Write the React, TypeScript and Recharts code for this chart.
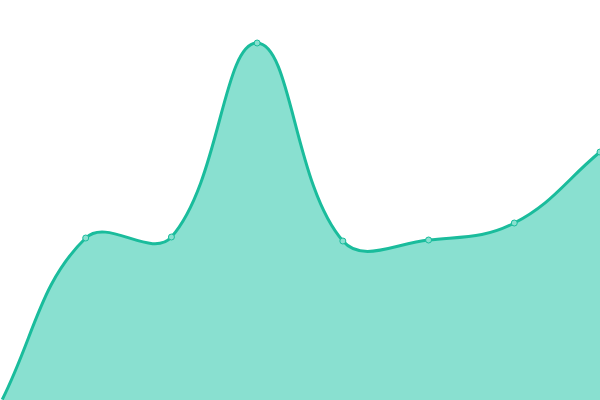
import { AreaChart, Area, XAxis, YAxis } from "recharts";

const labels = ["A", "B", "C", "D", "E", "F", "G", "H"];
const values = [-4, 162, 163, 357, 159, 160, 177, 248];

const data = labels.map((label, i) => ({ label, value: values[i] }));

const W = 600;
const H = 400;

// Spline like Chart.js' line tension (distance-weighted control points, capped to the plot)
function tensionCurve(t: number) {
  return (context: any) => {
    let xs: number[] = [];
    let ys: number[] = [];
    let line = NaN;
    const cap = (v: number, max: number) => Math.max(0, Math.min(max, v));
    return {
      areaStart() {
        line = 0;
      },
      areaEnd() {
        line = NaN;
      },
      lineStart() {
        xs = [];
        ys = [];
      },
      point(x: number, y: number) {
        xs.push(+x);
        ys.push(+y);
      },
      lineEnd() {
        const n = xs.length;
        const prevCp: number[][] = [];
        const nextCp: number[][] = [];
        for (let i = 0; i < n; i++) {
          const a = i > 0 ? i - 1 : i;
          const c = i < n - 1 ? i + 1 : i;
          const d01 = Math.hypot(xs[i] - xs[a], ys[i] - ys[a]);
          const d12 = Math.hypot(xs[c] - xs[i], ys[c] - ys[i]);
          let s01 = d01 / (d01 + d12);
          let s12 = d12 / (d01 + d12);
          if (isNaN(s01)) s01 = 0;
          if (isNaN(s12)) s12 = 0;
          const fa = t * s01;
          const fb = t * s12;
          const dx = xs[c] - xs[a];
          const dy = ys[c] - ys[a];
          prevCp.push([cap(xs[i] - fa * dx, W), cap(ys[i] - fa * dy, H)]);
          nextCp.push([cap(xs[i] + fb * dx, W), cap(ys[i] + fb * dy, H)]);
        }
        if (n > 0) {
          if (line) context.lineTo(xs[0], ys[0]);
          else context.moveTo(xs[0], ys[0]);
          for (let i = 0; i < n - 1; i++) {
            context.bezierCurveTo(
              nextCp[i][0],
              nextCp[i][1],
              prevCp[i + 1][0],
              prevCp[i + 1][1],
              xs[i + 1],
              ys[i + 1]
            );
          }
        }
        if (line || (line !== 0 && n === 1)) context.closePath();
        line = 1 - line;
      },
    };
  };
}

export default function App() {
  return (
    <div style={{ position: "fixed", left: 0, top: 0, width: W, height: H, background: "#fff" }}>
      <AreaChart width={W} height={H} data={data} margin={{ top: 0, right: 0, bottom: 0, left: 0 }}>
        <XAxis dataKey="label" hide={true} />
        <YAxis domain={[0, 400]} allowDataOverflow={true} hide={true} />
        <Area
          type={tensionCurve(0.4) as any}
          dataKey="value"
          stroke="#1abc9c"
          strokeWidth={3}
          fill="#89e0d0"
          fillOpacity={1}
          dot={{ r: 3, stroke: "#1abc9c", strokeWidth: 1, fill: "#89e0d0", fillOpacity: 1 }}
          isAnimationActive={false}
        />
      </AreaChart>
    </div>
  );
}
